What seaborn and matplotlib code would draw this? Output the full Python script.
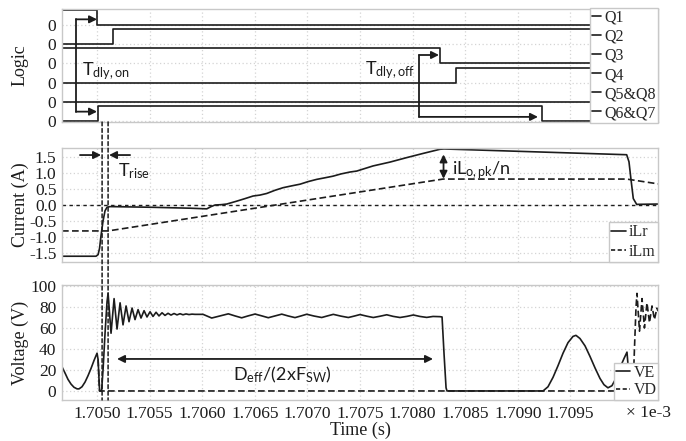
import numpy as np
import matplotlib
matplotlib.use("Agg")
import matplotlib.pyplot as plt
import seaborn as sns
from matplotlib.lines import Line2D
from matplotlib.patches import ConnectionPatch

# ---------------- data (time in units of 1e-3 s) ----------------
t_start, t_end = 1.704667, 1.710333
time_ticks = [1.7050, 1.7055, 1.7060, 1.7065, 1.7070, 1.7075, 1.7080, 1.7085, 1.7090, 1.7095]

# gate logic states at switching instants
q1_t = [t_start, 1.705000, t_end]
q1_v = [1, 0, 0]
q2_t = [t_start, 1.705149, t_end]
q2_v = [0, 1, 1]
q3_t = [t_start, 1.708260, t_end]
q3_v = [1, 0, 0]
q4_t = [t_start, 1.708413, t_end]
q4_v = [0, 1, 1]
q58_t = [t_start, t_end]
q58_v = [0, 0]
q67_t = [t_start, 1.705007, 1.709227, t_end]
q67_v = [0, 1, 0, 0]
logic_labels = ["Q1", "Q2", "Q3", "Q4", "Q5&Q8", "Q6&Q7"]

# resonant inductor current iLr (A)
ilr_t = [1.704667, 1.704990, 1.705010, 1.705024, 1.705038, 1.705057, 1.705076, 1.705095,
         1.705124, 1.705504, 1.705884, 1.706043, 1.706084, 1.706122, 1.706179, 1.706233,
         1.706328, 1.706407, 1.706483, 1.706549, 1.706613, 1.706692, 1.706768, 1.706854,
         1.706930, 1.707006, 1.707088, 1.707167, 1.707243, 1.707319, 1.707405, 1.707469,
         1.707624, 1.707785, 1.707944, 1.708099, 1.708260, 1.708299, 1.710035, 1.710057,
         1.710076, 1.710098, 1.710130, 1.710333]
ilr_v = [-1.60, -1.60, -1.55, -1.35, -0.95, -0.50, -0.18, -0.07,
         -0.05, -0.07, -0.10, -0.12, -0.05, 0.00, 0.01, 0.03,
         0.12, 0.20, 0.28, 0.31, 0.36, 0.46, 0.54, 0.60,
         0.65, 0.73, 0.80, 0.85, 0.90, 0.97, 1.03, 1.06,
         1.22, 1.34, 1.48, 1.61, 1.74, 1.75, 1.57, 1.35,
         0.80, 0.20, 0.02, 0.03]

# magnetizing current iLm (A)
ilm_t = [1.704667, 1.705105, 1.708289, 1.710035, 1.710333]
ilm_v = [-0.81, -0.81, 0.81, 0.81, 0.66]

# switch-node voltage VE (V)
ve_t = [1.704667, 1.704696, 1.704724, 1.704753, 1.704781, 1.704810, 1.704829, 1.704857,
        1.704886, 1.704914, 1.704943, 1.704971, 1.705000, 1.705010, 1.705024, 1.705043,
        1.705057, 1.705076, 1.705095,
        1.705105, 1.705133, 1.705162, 1.705190, 1.705219, 1.705247, 1.705276, 1.705304,
        1.705333, 1.705361, 1.705390, 1.705418, 1.705447, 1.705475, 1.705504, 1.705532,
        1.705561, 1.705589, 1.705618, 1.705646, 1.705675, 1.705703, 1.705732, 1.705760,
        1.705789, 1.705817, 1.705846, 1.705874, 1.705903, 1.705931, 1.705960,
        1.706008, 1.706090, 1.706169, 1.706248, 1.706312, 1.706375, 1.706435, 1.706502,
        1.706568, 1.706628, 1.706692, 1.706756, 1.706816, 1.706882, 1.706939, 1.706993,
        1.707063, 1.707136, 1.707186, 1.707246, 1.707319, 1.707389, 1.707443, 1.707500,
        1.707567, 1.707626, 1.707690, 1.707754, 1.707814, 1.707880, 1.707947, 1.708007,
        1.708070, 1.708134, 1.708194, 1.708260, 1.708280, 1.708299, 1.708318, 1.708327,
        1.709240, 1.709287, 1.709335, 1.709382, 1.709430, 1.709477, 1.709525, 1.709553,
        1.709591, 1.709639, 1.709686, 1.709734, 1.709781, 1.709819, 1.709857, 1.709895,
        1.709933, 1.709971, 1.710010, 1.710038, 1.710052, 1.710062, 1.710333]
ve_v = [23, 17, 11, 6.5, 3.5, 2, 2, 4,
        8.5, 14.5, 21.5, 29, 36, 30, 0, 0,
        20, 55, 85,
        93, 55, 88, 59, 84, 63, 81, 66,
        79, 68, 77.5, 69.5, 76.5, 70.5, 75.5, 71,
        75, 71.5, 74.5, 72, 74, 72.3, 73.8, 72.5,
        73.6, 72.6, 73.4, 72.8, 73.2, 73, 73,
        73, 69.5, 71.5, 73.5, 71.5, 69.7, 71.5, 73.3,
        71.5, 69.8, 71.5, 73.2, 71.5, 69.9, 71.5, 73.1,
        71.4, 70.0, 71.4, 73.0, 71.3, 70.0, 71.3, 72.8,
        71.2, 70.0, 71.2, 72.6, 71.1, 70.0, 71.1, 72.4,
        71.0, 70.1, 71.0, 70.8, 70.5, 35, 3, 0,
        0, 4, 13, 24, 36, 46, 52, 53,
        50, 43, 33, 22, 12, 6, 3, 5,
        12, 22, 31, 37, 20, 0, 0]

# switch-node voltage VD (V)
vd_t = [1.705010, 1.705024, 1.710095, 1.710109, 1.710124, 1.710133, 1.710157, 1.710181,
        1.710204, 1.710228, 1.710252, 1.710276, 1.710299, 1.710323, 1.710333]
vd_v = [30, 0, 0, 40, 80, 93, 57, 88,
        60, 84, 65, 81, 68, 79, 76]

# rise interval markers
rise_marks = [1.705048, 1.705105]

# ---------------- styling ----------------
sns.set_theme(style="whitegrid")
plt.rcParams["font.family"] = ["Liberation Serif", "DejaVu Serif"]
plt.rcParams["mathtext.fontset"] = "custom"
plt.rcParams["mathtext.rm"] = "Lato"
plt.rcParams["mathtext.it"] = "Lato:italic"
plt.rcParams["mathtext.bf"] = "Lato:bold"

ink = "#1c1c1c"
frame = "#c8c8c8"
gridc = "#d4d4d4"
lw = 1.2
dash_long = (0, (4, 2))
sans = ["Lato", "DejaVu Sans"]

fig = plt.figure(figsize=(6.86, 4.41), dpi=100)
ax_l = fig.add_axes([0.0904, 0.7234, 0.8688, 0.2562])
ax_c = fig.add_axes([0.0904, 0.4059, 0.8688, 0.2585])
ax_v = fig.add_axes([0.0904, 0.0930, 0.8688, 0.2608])
axes = [ax_l, ax_c, ax_v]

for ax in axes:
    ax.set_facecolor("white")
    for s in ax.spines.values():
        s.set_color(frame)
        s.set_linewidth(1.0)
    ax.grid(True, linestyle=(0, (1, 2)), color=gridc, linewidth=0.9)
    ax.set_xlim(t_start, t_end)
    ax.set_xticks(time_ticks)
    ax.tick_params(length=0, labelsize=12.5, colors=ink, pad=4)

ax_l.tick_params(labelbottom=False)
ax_c.tick_params(labelbottom=False)
ax_v.set_xticklabels([f"{t:.4f}" for t in time_ticks])

# ---------------- logic panel ----------------
step = 1.28
logic_t = [q1_t, q2_t, q3_t, q4_t, q58_t, q67_t]
logic_v = [q1_v, q2_v, q3_v, q4_v, q58_v, q67_v]
bases = []
for k, (tt, vv) in enumerate(zip(logic_t, logic_v)):
    base = -step * k
    bases.append(base)
    sns.lineplot(x=tt, y=np.array(vv) + base, ax=ax_l, color=ink, lw=lw,
                 drawstyle="steps-post", estimator=None, sort=False, legend=False)
ax_l.set_ylim(-6.47, 1.07)
ax_l.set_yticks(bases)
ax_l.set_yticklabels(["0"] * len(bases))
ax_l.set_ylabel("Logic", fontsize=13, color=ink)

h_logic = [Line2D([], [], color=ink, lw=lw) for _ in logic_labels]
leg = ax_l.legend(h_logic, logic_labels, loc="center right", bbox_to_anchor=(1, 0.5),
                  borderaxespad=0, fancybox=False, framealpha=1, edgecolor=frame,
                  handlelength=0.6, handletextpad=0.2, labelspacing=0.19, borderpad=0.12,
                  fontsize=11.5)
leg.get_frame().set_linewidth(1.0)

arrow = dict(arrowstyle="-|>", color=ink, lw=1.3, mutation_scale=11, shrinkA=0, shrinkB=0)
dbl = dict(arrowstyle="<|-|>", color=ink, lw=1.3, mutation_scale=11, shrinkA=0, shrinkB=0)

# turn-on delay bracket
ax_l.plot([1.704800, 1.704800], [0.38, -5.78], color=ink, lw=1.3)
ax_l.annotate("", xy=(1.705000, 0.38), xytext=(1.704800, 0.38), arrowprops=arrow)
ax_l.annotate("", xy=(1.705000, -5.78), xytext=(1.704800, -5.78), arrowprops=arrow)
ax_l.text(1.704860, -3.33, r"T$_{\mathrm{dly,on}}$", family=sans, fontsize=13,
          color=ink, va="baseline", ha="left")

# turn-off delay bracket
ax_l.plot([1.708061, 1.708061], [-2.0, -6.13], color=ink, lw=1.3)
ax_l.annotate("", xy=(1.708251, -2.0), xytext=(1.708061, -2.0), arrowprops=arrow)
ax_l.annotate("", xy=(1.709192, -6.13), xytext=(1.708061, -6.13), arrowprops=arrow)
ax_l.text(1.707548, -3.27, r"T$_{\mathrm{dly,off}}$", family=sans, fontsize=13,
          color=ink, va="baseline", ha="left")

# ---------------- current panel ----------------
ax_c.axhline(0, color=ink, lw=1.0, ls=(0, (2.5, 2.5)), zorder=1.5)
sns.lineplot(x=ilr_t, y=ilr_v, ax=ax_c, color=ink, lw=lw, estimator=None, sort=False, legend=False)
sns.lineplot(x=ilm_t, y=ilm_v, ax=ax_c, color=ink, lw=lw, ls=dash_long,
             estimator=None, sort=False, legend=False)
ax_c.set_ylim(-1.78, 1.78)
ax_c.set_yticks([1.5, 1.0, 0.5, 0.0, -0.5, -1.0, -1.5])
ax_c.set_yticklabels(["1.5", "1.0", "0.5", "0.0", "-0.5", "-1.0", "-1.5"])
ax_c.set_ylabel("Current (A)", fontsize=13, color=ink)
leg = ax_c.legend([Line2D([], [], color=ink, lw=lw), Line2D([], [], color=ink, lw=lw, ls=(0, (2.5, 1.5)))],
                  ["iLr", "iLm"], loc="lower right", borderaxespad=0, fancybox=False,
                  framealpha=1, edgecolor=frame, handlelength=0.9, handletextpad=0.2,
                  labelspacing=0.2, borderpad=0.15, fontsize=11.5)
leg.get_frame().set_linewidth(1.0)

ax_c.annotate("", xy=(1.705038, 1.56), xytext=(1.704838, 1.56), arrowprops=arrow)
ax_c.annotate("", xy=(1.705114, 1.56), xytext=(1.705314, 1.56), arrowprops=arrow)
ax_c.text(1.705200, 0.91, r"T$_{\mathrm{rise}}$", family=sans, fontsize=13,
          color=ink, va="baseline", ha="left")
ax_c.annotate("", xy=(1.708294, 1.58), xytext=(1.708294, 0.82), arrowprops=dbl)
ax_c.text(1.708372, 0.96, r"iL$_{\mathrm{o,pk}}$/n", family=sans, fontsize=13,
          color=ink, va="baseline", ha="left")

# ---------------- voltage panel ----------------
sns.lineplot(x=ve_t, y=ve_v, ax=ax_v, color=ink, lw=lw, estimator=None, sort=False, legend=False)
sns.lineplot(x=vd_t, y=vd_v, ax=ax_v, color=ink, lw=lw, ls=dash_long,
             estimator=None, sort=False, legend=False)
ax_v.set_ylim(-8.6, 101)
ax_v.set_yticks([0, 20, 40, 60, 80, 100])
ax_v.set_yticklabels(["0", "20", "40", "60", "80", "100"])
ax_v.set_ylabel("Voltage (V)", fontsize=13, color=ink)
ax_v.set_xlabel("Time (s)", fontsize=13, color=ink, labelpad=0)
leg = ax_v.legend([Line2D([], [], color=ink, lw=lw), Line2D([], [], color=ink, lw=lw, ls=(0, (2.5, 1.5)))],
                  ["VE", "VD"], loc="lower right", borderaxespad=0, fancybox=False,
                  framealpha=1, edgecolor=frame, handlelength=0.9, handletextpad=0.2,
                  labelspacing=0.1, borderpad=0.1, fontsize=11.5)
leg.get_frame().set_linewidth(1.0)

ax_v.annotate("", xy=(1.705190, 30.5), xytext=(1.708194, 30.5), arrowprops=dbl)
ax_v.text(1.706296, 10.5, r"D$_{\mathrm{eff}}$/(2xF$_{\mathrm{SW}}$)", family=sans, fontsize=13,
          color=ink, va="baseline", ha="left")
ax_v.annotate("\u00d7 1e-3", xy=(1, 0), xycoords="axes fraction", xytext=(-10, -13),
              textcoords="offset pixels", ha="center", va="center", fontsize=12.5, color=ink)

for ax in axes:
    ax.yaxis.set_label_coords(-0.056, 0.5)

# rise interval markers spanning the lower panels
for tm in rise_marks:
    con = ConnectionPatch(xyA=(tm, -6.47), coordsA=ax_l.transData,
                          xyB=(tm, -8.6), coordsB=ax_v.transData,
                          color=ink, lw=1.1, ls=(0, (2.5, 1.8)), zorder=5)
    fig.add_artist(con)

fig.savefig("out.png", dpi=100)
